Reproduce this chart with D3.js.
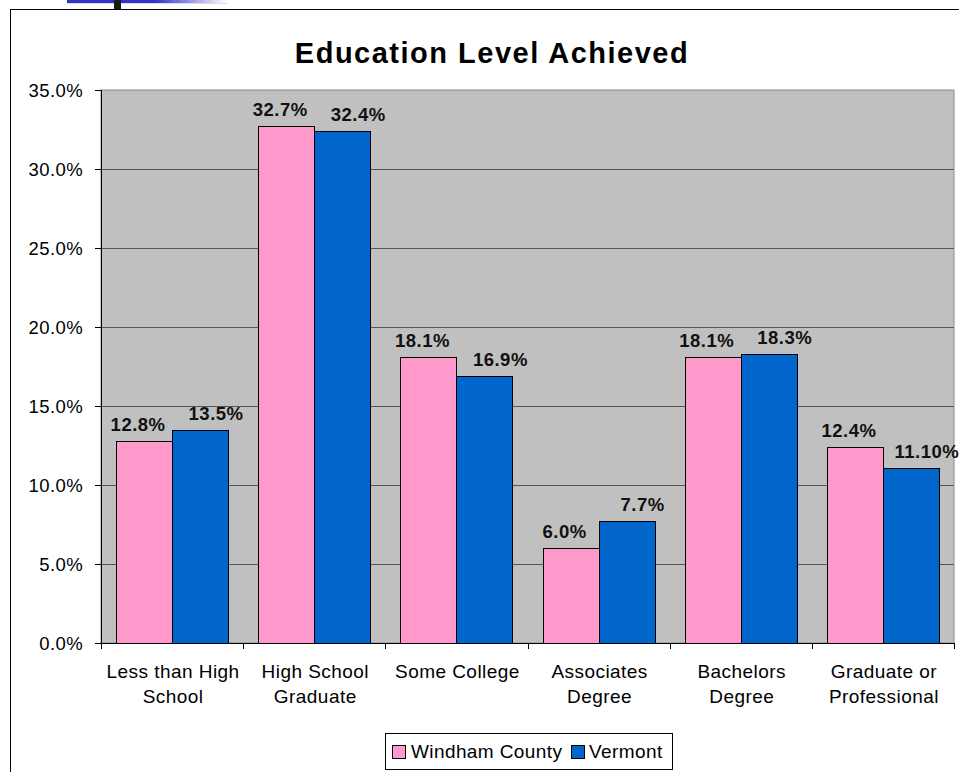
<!DOCTYPE html>
<html><head><meta charset="utf-8">
<script src="https://cdn.jsdelivr.net/npm/d3@7"></script>
<style>
html,body{margin:0;padding:0;background:#fff;}
svg{display:block;font-family:"Liberation Sans",Arial,sans-serif;}
</style></head>
<body><svg id="c" width="959" height="772"></svg>
<script>
const categories = [["Less than High","School"],["High School","Graduate"],["Some College"],["Associates","Degree"],["Bachelors","Degree"],["Graduate or","Professional"]];
const seriesNames = ["Windham County","Vermont"];
const windham = [12.8, 32.7, 18.1, 6.0, 18.1, 12.4];
const vermont = [13.5, 32.4, 16.9, 7.7, 18.3, 11.1];
const windhamLabels = ["12.8%","32.7%","18.1%","6.0%","18.1%","12.4%"];
const vermontLabels = ["13.5%","32.4%","16.9%","7.7%","18.3%","11.10%"];
const yTicks = [0,5,10,15,20,25,30,35];
const colors = ["#FF99CC","#0066CC"];

const svg = d3.select("#c");
const defs = svg.append("defs");
const g1 = defs.append("linearGradient").attr("id","hdr").attr("x1","0").attr("x2","1");
g1.append("stop").attr("offset","0").attr("stop-color","#3333CC");
g1.append("stop").attr("offset","0.55").attr("stop-color","#3333CC");
g1.append("stop").attr("offset","1").attr("stop-color","#ffffff");
svg.append("rect").attr("x",67).attr("y",0).attr("width",160).attr("height",3).attr("fill","url(#hdr)");
svg.append("rect").attr("x",67).attr("y",3).attr("width",160).attr("height",1).attr("fill","#ddd");
svg.append("rect").attr("x",114).attr("y",0).attr("width",7).attr("height",9).attr("fill","#1a1a1a");

// outer frame
svg.append("rect").attr("x",10.5).attr("y",9.5).attr("width",1000).attr("height",1000).attr("fill","none").attr("stroke","#000");

const L=101, R=954, T=90, B=643;
const x0 = d3.scaleBand().domain(d3.range(categories.length)).range([L,R]).paddingInner(0).paddingOuter(0);
const x1 = d3.scaleBand().domain([0,1]).range([0,x0.bandwidth()]).paddingOuter(0.27);
const y = d3.scaleLinear().domain([0,35]).range([B,T]);

svg.append("rect").attr("x",L).attr("y",T).attr("width",R-L).attr("height",B-T).attr("fill","#C0C0C0").attr("stroke","#8a8a8a");

svg.append("g").selectAll("line").data(yTicks.filter(d=>d>0&&d<35)).join("line")
  .attr("x1",L).attr("x2",R).attr("y1",d=>y(d)+0.5).attr("y2",d=>y(d)+0.5).attr("stroke","#555");

// y axis
const ya = svg.append("g").attr("transform",`translate(${L},0)`)
  .call(d3.axisLeft(y).tickValues(yTicks).tickSize(6).tickPadding(12).tickFormat(d=>d.toFixed(1)+"%"));
ya.select(".domain").attr("stroke","#000");
ya.selectAll("line").attr("stroke","#000");
ya.selectAll("text").attr("font-size",18.5).attr("fill","#000").attr("letter-spacing","0.4px")
  .attr("font-family","Liberation Sans, Arial, sans-serif").attr("dy","0.36em");

// x axis
svg.append("line").attr("x1",L).attr("x2",R).attr("y1",B+0.5).attr("y2",B+0.5).attr("stroke","#000");
svg.append("g").selectAll("line").data(d3.range(categories.length+1)).join("line")
  .attr("x1",d=>Math.round(L+d*x0.bandwidth())+0.5).attr("x2",d=>Math.round(L+d*x0.bandwidth())+0.5)
  .attr("y1",B).attr("y2",B+6).attr("stroke","#000");

const series=[windham,vermont], labels=[windhamLabels,vermontLabels];
const nudge=[-6,16];
series.forEach((vals,s)=>{
  svg.append("g").selectAll("rect").data(vals).join("rect")
    .attr("x",(d,i)=>Math.round(x0(i)+x1(s))+0.5)
    .attr("y",d=>Math.round(y(d))+0.5)
    .attr("width",Math.round(x1.bandwidth()))
    .attr("height",d=>Math.round(B-y(d)))
    .attr("fill",colors[s]).attr("stroke","#000");
  svg.append("g").selectAll("text").data(vals).join("text")
    .attr("x",(d,i)=>x0(i)+x1(s)+x1.bandwidth()/2+nudge[s])
    .attr("y",d=>y(d)-10)
    .attr("text-anchor","middle").attr("font-size",18.5).attr("font-weight","bold").attr("fill","#111")
    .attr("letter-spacing","0.5px")
    .text((d,i)=>labels[s][i]);
});

// category labels
const cl = svg.append("g").selectAll("text").data(categories).join("text")
  .attr("x",(d,i)=>x0(i)+x0.bandwidth()/2+1).attr("y",678)
  .attr("text-anchor","middle").attr("font-size",19).attr("fill","#000").attr("letter-spacing","0.45px");
cl.selectAll("tspan").data(d=>d).join("tspan")
  .attr("x",function(){return d3.select(this.parentNode).attr("x");})
  .attr("dy",(d,i)=>i===0?0:25).text(d=>d);

// title
svg.append("text").attr("x",492).attr("y",63).attr("text-anchor","middle")
  .attr("font-size",29).attr("font-weight","bold").attr("letter-spacing","1.5px").text("Education Level Achieved");

// legend
const lg = svg.append("g");
lg.append("rect").attr("x",385.5).attr("y",733.5).attr("width",287).attr("height",36).attr("fill","#fff").attr("stroke","#000");
const items=[{x:392,tx:411},{x:571,tx:589}];
items.forEach((it,s)=>{
  lg.append("rect").attr("x",it.x+0.5).attr("y",745.5).attr("width",13).attr("height",13).attr("fill",colors[s]).attr("stroke","#000");
  lg.append("text").attr("x",it.tx).attr("y",758).attr("font-size",19).attr("fill","#000").attr("letter-spacing","0.4px").text(seriesNames[s]);
});
</script></body></html>
